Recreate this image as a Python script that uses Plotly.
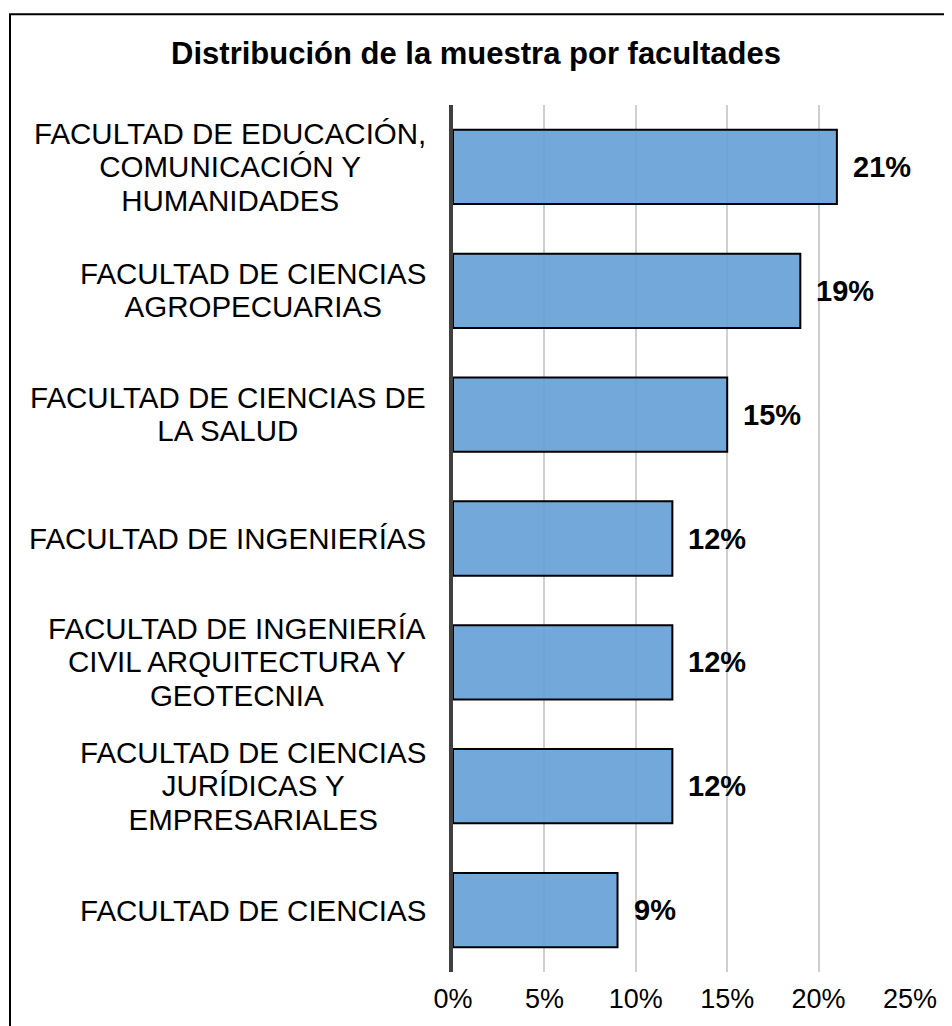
import plotly.graph_objects as go

categorias = [
    "FACULTAD DE EDUCACIÓN,<br>COMUNICACIÓN Y<br>HUMANIDADES",
    "FACULTAD DE CIENCIAS<br>AGROPECUARIAS",
    "FACULTAD DE CIENCIAS DE<br>LA SALUD",
    "FACULTAD DE INGENIERÍAS",
    "FACULTAD DE INGENIERÍA<br>CIVIL ARQUITECTURA Y<br>GEOTECNIA",
    "FACULTAD DE CIENCIAS<br>JURÍDICAS Y<br>EMPRESARIALES",
    "FACULTAD DE CIENCIAS",
]
porcentajes = [21, 19, 15, 12, 12, 12, 9]
ticks_x = [0, 5, 10, 15, 20, 25]
etiquetas_x = ["0%", "5%", "10%", "15%", "20%", "25%"]

# la pagina tiene 8px de margen en el body
W, H = 944, 1018
L, R, T, B = 445, 42, 97, 51
FONT = "Liberation Sans, Arial, sans-serif"
FS_CAT = 29.5
INTERLINEA = 33.5

fig = go.Figure(
    go.Bar(
        x=porcentajes,
        y=categorias,
        orientation="h",
        marker=dict(color="rgba(100,158,214,0.9)", line=dict(color="#000000", width=2)),
        width=0.6,
        hoverinfo="x",
    )
)

# etiquetas de categoria: bloque centrado, alineado a la derecha del eje.
# El interlineado sale del tamano base (1.3em), las letras van mas grandes.
for cat in categorias:
    texto = "<br>".join(
        f"<span style='font-size:{FS_CAT}px'>{l}</span>" for l in cat.split("<br>")
    )
    fig.add_annotation(
        x=0, y=cat, xref="x", yref="y",
        text=texto, showarrow=False,
        xanchor="right", yanchor="middle", align="center",
        xshift=-25,
        font=dict(family=FONT, size=INTERLINEA / 1.3, color="#000000"),
    )

# etiquetas de datos
for cat, val in zip(categorias, porcentajes):
    fig.add_annotation(
        x=val, y=cat, xref="x", yref="y",
        text=f"{val}%", showarrow=False,
        xanchor="left", yanchor="middle",
        xshift=14,
        font=dict(family=FONT, size=29, color="#000000", weight="bold"),
    )

pw = W - L - R
ph = H - T - B
# marco del grafico (solo visible arriba e izquierda)
fig.add_shape(
    type="rect", xref="paper", yref="paper",
    x0=(2 - L) / pw, x1=(W + 20 - L) / pw,
    y0=(H - (H + 20) - B) / ph, y1=(H - 6 - B) / ph,
    line=dict(color="#000000", width=2), fillcolor="rgba(0,0,0,0)",
    layer="below",
)

fig.update_layout(
    width=W, height=H,
    margin=dict(l=L, r=R, t=T, b=B),
    paper_bgcolor="white", plot_bgcolor="white",
    showlegend=False,
    title=dict(
        text="<b>Distribución de la muestra por facultades</b>",
        x=(476 - 8) / W, xref="container", xanchor="center",
        y=1 - 45 / H, yref="container", yanchor="middle",
        font=dict(family=FONT, size=31, color="#000000"),
    ),
    xaxis=dict(
        range=[0, 25], tickvals=ticks_x, ticktext=etiquetas_x,
        showgrid=True, gridcolor="#cfcfcf", gridwidth=1.5,
        zeroline=False, showline=False, ticks="",
        ticklabelstandoff=8,
        tickfont=dict(family=FONT, size=27, color="#000000"),
        fixedrange=True,
    ),
    yaxis=dict(
        autorange="reversed", showticklabels=False, ticks="",
        showgrid=False, zeroline=False,
        showline=True, linecolor="#404040", linewidth=4,
        fixedrange=True,
    ),
    bargap=0.4,
)

fig.write_html("out.html")
